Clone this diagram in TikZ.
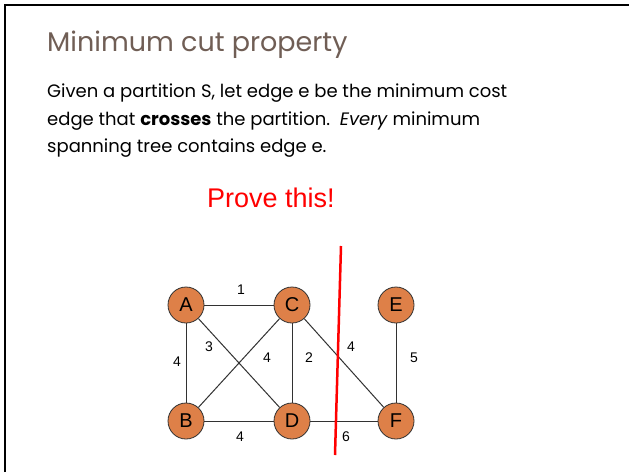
\documentclass[tikz,border=0pt]{standalone}
\usepackage{fontspec}
\setmainfont{Poppins}
\newfontfamily\arialf{Liberation Sans}
\definecolor{titlebrown}{RGB}{112,94,85}
\definecolor{nodeorange}{RGB}{222,128,72}
\definecolor{edgegrey}{RGB}{50,50,50}
\tikzset{
  vtx/.style={circle, draw=edgegrey, line width=0.8pt, fill=nodeorange, minimum size=36pt, inner sep=0pt, font=\arialf\fontsize{20}{20}\selectfont},
  edg/.style={draw=edgegrey, line width=1pt},
  wlab/.style={font=\arialf\fontsize{14}{14}\selectfont, inner sep=0pt},
  bodytext/.style={anchor=base west, inner sep=0pt, font=\fontsize{18}{18}\selectfont}
}
\begin{document}
\begin{tikzpicture}[x=1pt,y=-1pt]
\useasboundingbox (0,0) rectangle (629,472);
\fill[white] (0,0) rectangle (629,472);
\draw[black, line width=2pt] (5,472) -- (5,5) -- (629,5);
\node[anchor=base west, inner sep=0pt, text=titlebrown, font=\fontsize{27}{27}\selectfont] (title) at (47,51) {Minimum cut property};
\node[bodytext] (l1) at (47,97) {Given a partition S, let edge e be the minimum cost};
\node[bodytext] (l2) at (47,125) {edge that \textbf{crosses} the partition.\ \ \textit{Every} minimum};
\node[bodytext] (l3) at (47,152) {spanning tree contains edge e.};
\node[anchor=base, inner sep=0pt, text=red, font=\arialf\fontsize{27}{27}\selectfont] (prove) at (271,207) {Prove this!};
\node[vtx] (A) at (186,305) {A};
\node[vtx] (C) at (292,305) {C};
\node[vtx] (E) at (396,305) {E};
\node[vtx] (B) at (186,421) {B};
\node[vtx] (D) at (292,421) {D};
\node[vtx] (F) at (396,421) {F};
\draw[edg] (A) -- (C);
\draw[edg] (A) -- (B);
\draw[edg] (A) -- (D);
\draw[edg] (C) -- (B);
\draw[edg] (C) -- (D);
\draw[edg] (C) -- (F);
\draw[edg] (E) -- (F);
\draw[edg] (B) -- (D);
\draw[edg] (D) -- (F);
\node[wlab] (w1) at (241,290) {1};
\node[wlab] (w3) at (209,347) {3};
\node[wlab] (w4a) at (177,362) {4};
\node[wlab] (w4b) at (267,358) {4};
\node[wlab] (w2) at (309,358) {2};
\node[wlab] (w4c) at (351,347) {4};
\node[wlab] (w5) at (414,358) {5};
\node[wlab] (w4d) at (240,437) {4};
\node[wlab] (w6) at (346,437) {6};
\coordinate (cutTop) at (341,246);
\coordinate (cutBot) at (335,455);
\draw[red, line width=2.5pt] (cutTop) -- (cutBot);
\end{tikzpicture}
\end{document}
